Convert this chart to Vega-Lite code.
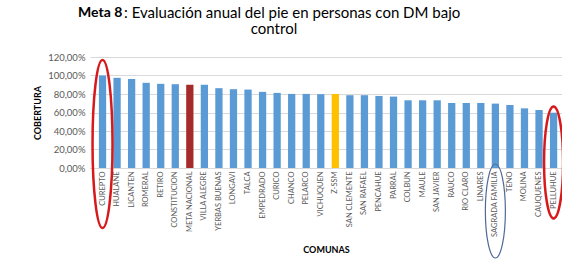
{
  "$schema": "https://vega.github.io/schema/vega-lite/v6.json",
  "width": 472,
  "height": 111,
  "autosize": {"type": "none"},
  "padding": {"left": 90, "top": 57, "right": 0, "bottom": 99},
  "background": "white",
  "title": {
    "text": "Meta 8",
    "subtitle": ["\u200b\u00a0\u00a0\u00a0\u00a0\u00a0\u00a0\u00a0\u00a0\u00a0\u00a0\u00a0\u00a0: Evaluación anual del pie en personas con DM bajo", "\u200b\u00a0\u00a0\u00a0\u00a0\u00a0\u00a0\u00a0\u00a0\u00a0\u00a0\u00a0\u00a0\u00a0\u00a0\u00a0\u00a0\u00a0\u00a0\u00a0\u00a0\u00a0\u00a0\u00a0\u00a0\u00a0\u00a0\u00a0\u00a0\u00a0\u00a0\u00a0\u00a0\u00a0\u00a0\u00a0\u00a0\u00a0\u00a0\u00a0\u00a0\u00a0\u00a0\u00a0\u00a0\u00a0control"],
    "anchor": "start",
    "frame": "group",
    "dx": -12,
    "font": "Lato",
    "fontSize": 14,
    "fontWeight": "bold",
    "color": "#000000",
    "subtitleFont": "Lato",
    "subtitleFontSize": 15,
    "subtitleColor": "#000000",
    "subtitlePadding": -14,
    "subtitleLineHeight": 16,
    "offset": 15
  },
  "config": {
    "view": {"stroke": null},
    "font": "Lato"
  },
  "resolve": {"axis": {"x": "independent", "y": "independent"}},
  "layer": [
    {
      "data": {
        "values": [
          {"comuna": "CUREPTO", "cobertura": 1.0, "grupo": "comuna"},
          {"comuna": "HUALAÑE", "cobertura": 0.975, "grupo": "comuna"},
          {"comuna": "LICANTEN", "cobertura": 0.961, "grupo": "comuna"},
          {"comuna": "ROMERAL", "cobertura": 0.921, "grupo": "comuna"},
          {"comuna": "RETIRO", "cobertura": 0.91, "grupo": "comuna"},
          {"comuna": "CONSTITUCION", "cobertura": 0.906, "grupo": "comuna"},
          {"comuna": "META NACIONAL", "cobertura": 0.90, "grupo": "meta"},
          {"comuna": "VILLA ALEGRE", "cobertura": 0.90, "grupo": "comuna"},
          {"comuna": "YERBAS BUENAS", "cobertura": 0.863, "grupo": "comuna"},
          {"comuna": "LONGAVI", "cobertura": 0.852, "grupo": "comuna"},
          {"comuna": "TALCA", "cobertura": 0.848, "grupo": "comuna"},
          {"comuna": "EMPEDRADO", "cobertura": 0.823, "grupo": "comuna"},
          {"comuna": "CURICO", "cobertura": 0.812, "grupo": "comuna"},
          {"comuna": "CHANCO", "cobertura": 0.801, "grupo": "comuna"},
          {"comuna": "PELARCO", "cobertura": 0.801, "grupo": "comuna"},
          {"comuna": "VICHUQUEN", "cobertura": 0.798, "grupo": "comuna"},
          {"comuna": "Z-SSM", "cobertura": 0.80, "grupo": "servicio"},
          {"comuna": "SAN CLEMENTE", "cobertura": 0.787, "grupo": "comuna"},
          {"comuna": "SAN RAFAEL", "cobertura": 0.787, "grupo": "comuna"},
          {"comuna": "PENCAHUE", "cobertura": 0.779, "grupo": "comuna"},
          {"comuna": "PARRAL", "cobertura": 0.772, "grupo": "comuna"},
          {"comuna": "COLBUN", "cobertura": 0.732, "grupo": "comuna"},
          {"comuna": "MAULE", "cobertura": 0.732, "grupo": "comuna"},
          {"comuna": "SAN JAVIER", "cobertura": 0.732, "grupo": "comuna"},
          {"comuna": "RAUCO", "cobertura": 0.703, "grupo": "comuna"},
          {"comuna": "RIO CLARO", "cobertura": 0.703, "grupo": "comuna"},
          {"comuna": "LINARES", "cobertura": 0.703, "grupo": "comuna"},
          {"comuna": "SAGRADA FAMILIA", "cobertura": 0.696, "grupo": "comuna"},
          {"comuna": "TENO", "cobertura": 0.681, "grupo": "comuna"},
          {"comuna": "MOLINA", "cobertura": 0.645, "grupo": "comuna"},
          {"comuna": "CAUQUENES", "cobertura": 0.627, "grupo": "comuna"},
          {"comuna": "PELLUHUE", "cobertura": 0.598, "grupo": "comuna"}
        ]
      },
      "mark": {"type": "bar"},
      "encoding": {
        "x": {
          "field": "comuna",
          "type": "nominal",
          "sort": null,
          "scale": {"paddingInner": 0.5, "paddingOuter": 0.47, "align": 0.65},
          "axis": {
            "title": "COMUNAS",
            "titleFont": "Lato",
            "titleFontSize": 9,
            "titleFontWeight": "bold",
            "titleColor": "#000000",
            "titlePadding": 9,
            "labelAngle": -90,
            "labelFont": "Liberation Sans Narrow, Lato",
            "labelFontSize": 7.5,
            "labelColor": "#595959",
            "labelPadding": 3,
            "ticks": false,
            "domainColor": "#d9d9d9",
            "labelOverlap": false
          }
        },
        "y": {
          "field": "cobertura",
          "type": "quantitative",
          "scale": {"domain": [0, 1.2], "nice": false},
          "axis": {
            "title": "COBERTURA",
            "titleFont": "Lato",
            "titleFontSize": 9,
            "titleFontWeight": "bold",
            "titleColor": "#000000",
            "titlePadding": 5,
            "values": [0, 0.2, 0.4, 0.6, 0.8, 1.0, 1.2],
            "labelOverlap": false,
            "labelExpr": "replace(format(datum.value, '.2%'), '.', ',')",
            "labelFont": "Lato",
            "labelFontSize": 9.5,
            "labelColor": "#595959",
            "labelPadding": 5,
            "ticks": false,
            "domain": false,
            "grid": true,
            "gridColor": "#d9d9d9"
          }
        },
        "color": {
          "field": "grupo",
          "type": "nominal",
          "scale": {"domain": ["comuna", "meta", "servicio"], "range": ["#5b9bd5", "#a52a2a", "#ffc000"]},
          "legend": null
        }
      }
    },
    {
      "data": {"values": [{"comuna": "CUREPTO"}]},
      "mark": {
        "type": "point",
        "shape": "M0,-1C0.0657,-1 0.119,-0.5523 0.119,0C0.119,0.5523 0.0657,1 0,1C-0.0657,1 -0.119,0.5523 -0.119,0C-0.119,-0.5523 -0.0657,-1 0,-1Z",
        "size": 28224,
        "filled": false,
        "color": "#d7191c",
        "strokeWidth": 2.5,
        "opacity": 1
      },
      "encoding": {
        "x": {"field": "comuna", "type": "nominal", "sort": null, "axis": null},
        "y": {"datum": 0.26, "axis": null}
      }
    },
    {
      "data": {"values": [{"comuna": "PELLUHUE"}]},
      "mark": {
        "type": "point",
        "shape": "M0,-1C0.0939,-1 0.17,-0.5523 0.17,0C0.17,0.5523 0.0939,1 0,1C-0.0939,1 -0.17,0.5523 -0.17,0C-0.17,-0.5523 -0.0939,-1 0,-1Z",
        "size": 12544,
        "filled": false,
        "color": "#d7191c",
        "strokeWidth": 2.5,
        "opacity": 1
      },
      "encoding": {
        "x": {"field": "comuna", "type": "nominal", "sort": null, "axis": null},
        "y": {"datum": 0.06, "axis": null}
      }
    },
    {
      "data": {"values": [{"comuna": "SAGRADA FAMILIA"}]},
      "mark": {
        "type": "point",
        "shape": "M0,-1C0.1176,-1 0.213,-0.5523 0.213,0C0.213,0.5523 0.1176,1 0,1C-0.1176,1 -0.213,0.5523 -0.213,0C-0.213,-0.5523 -0.1176,-1 0,-1Z",
        "size": 8836,
        "filled": false,
        "color": "#4f6996",
        "strokeWidth": 1.2,
        "opacity": 1
      },
      "encoding": {
        "x": {"field": "comuna", "type": "nominal", "sort": null, "axis": null},
        "y": {"datum": -0.465, "axis": null}
      }
    }
  ]
}
